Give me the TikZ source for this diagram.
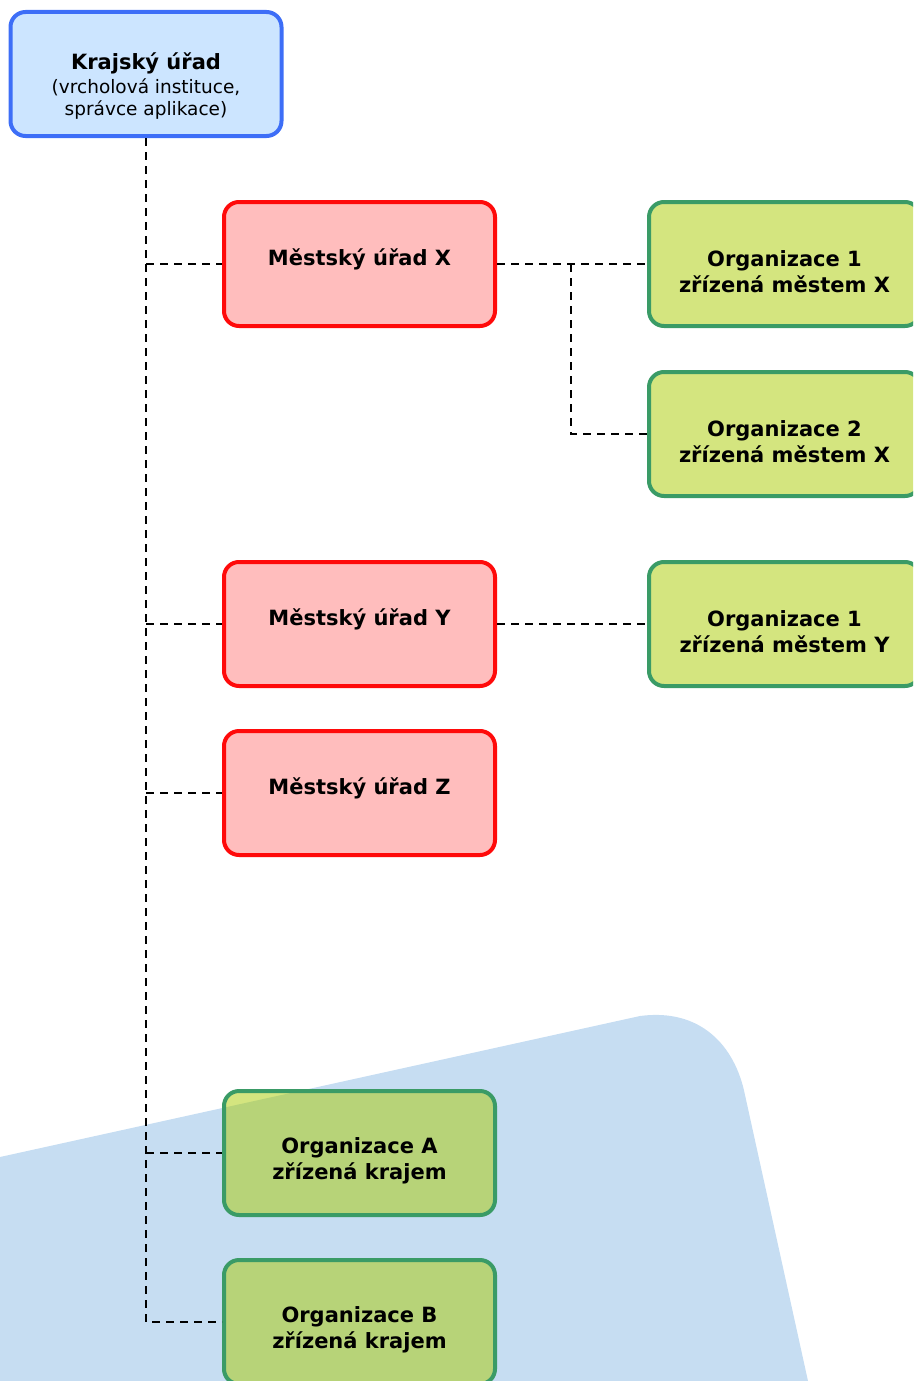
\documentclass[tikz,border=0pt]{standalone}
\usepackage{fontspec}
\setmainfont{DejaVu Sans}
\definecolor{krajfill}{HTML}{CCE5FF}
\definecolor{krajline}{HTML}{3D6EF7}
\definecolor{mestofill}{HTML}{FFBDBD}
\definecolor{mestoline}{HTML}{FF0A0A}
\definecolor{orgfill}{HTML}{A9CB00}
\definecolor{orgline}{HTML}{3A9B66}
\definecolor{pozadi}{HTML}{C6DDF2}
% extra height above / depth below a node text
\newcommand{\zvys}[1]{\rule{0pt}{#1}}
\newcommand{\hloubka}[1]{\rule[-#1]{0pt}{#1}}
\begin{document}
\begin{tikzpicture}[x=1pt,y=-1pt,
    box/.style={rounded corners=15pt, line width=4pt, minimum width=271pt,
      minimum height=124pt, align=center, inner sep=2pt,
      font=\bfseries\fontsize{21}{26}\selectfont},
    kraj/.style={box, draw=krajline, fill=krajfill},
    mesto/.style={box, draw=mestoline, fill=mestofill},
    org/.style={box, draw=orgline, fill=orgfill, fill opacity=0.5, text opacity=1, draw opacity=1},
    spoj/.style={line width=2pt, dash pattern=on 8pt off 6pt}]
  \clip (0,0) rectangle (913,1381);
  \useasboundingbox (0,0) rectangle (913,1381);
  % background
  \fill[pozadi] (0,1157) -- (640,1016)
    .. controls (700,1008) and (735,1045) .. (745,1095)
    -- (808,1381) -- (0,1381) -- cycle;
  % nodes
  \node[kraj] (kraj) at (146,74) {\zvys{40pt}Krajský úřad\\[-2pt]
    {\mdseries\fontsize{18.5}{22}\selectfont (vrcholová instituce,}\\[-4pt]
    {\mdseries\fontsize{18.5}{22}\selectfont správce aplikace)}};
  \node[mesto] (mux) at (359.5,264) {Městský úřad X\hloubka{13pt}};
  \node[mesto] (muy) at (359.5,624) {Městský úřad Y\hloubka{13pt}};
  \node[mesto] (muz) at (359.5,793) {Městský úřad Z\hloubka{13pt}};
  \node[org] (o1x) at (784.5,264) {\zvys{32pt}Organizace 1\\zřízená městem X};
  \node[org] (o2x) at (784.5,434) {\zvys{32pt}Organizace 2\\zřízená městem X};
  \node[org] (o1y) at (784.5,624) {\zvys{32pt}Organizace 1\\zřízená městem Y};
  \node[org] (oa) at (359.5,1153) {\zvys{32pt}Organizace A\\zřízená krajem};
  \node[org] (ob) at (359.5,1322) {\zvys{32pt}Organizace B\\zřízená krajem};
  \coordinate (vetev) at (571,264);
  % connectors
  \begin{scope}[spoj]
    \draw (kraj.south) -- (kraj.south |- ob.west) -- (ob.west);
    \draw (kraj.south |- mux.west) -- (mux.west);
    \draw (kraj.south |- muy.west) -- (muy.west);
    \draw (kraj.south |- muz.west) -- (muz.west);
    \draw (kraj.south |- oa.west) -- (oa.west);
    \draw (mux.east) -- (o1x.west);
    \draw (vetev) |- (o2x.west);
    \draw (muy.east) -- (o1y.west);
  \end{scope}
\end{tikzpicture}
\end{document}
